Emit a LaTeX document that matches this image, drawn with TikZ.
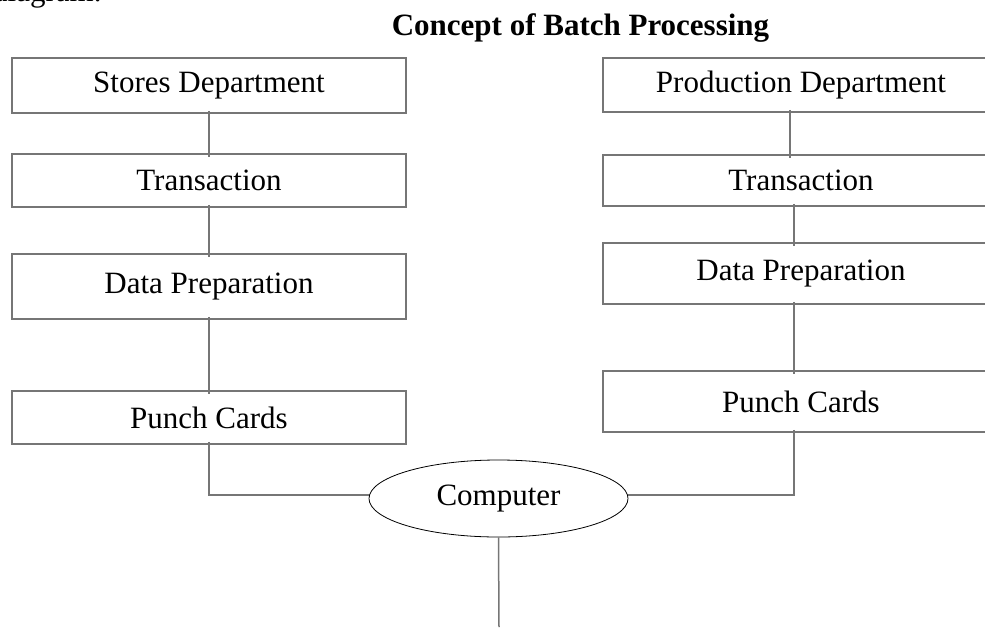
\documentclass[tikz,border=0pt]{standalone}
\usepackage{fontspec}
\setmainfont{Liberation Serif}
\usetikzlibrary{shapes.geometric}
\definecolor{linegray}{RGB}{118,118,118}
\begin{document}
\begin{tikzpicture}[x=1pt, y=-1pt,
  lbl/.style={font=\fontsize{31}{37}\selectfont},
  box/.style={lbl, draw=linegray, line width=1.5pt, inner sep=0pt, align=center},
  lbox/.style={box, minimum width=394pt},
  rbox/.style={box, minimum width=396pt},
  conn/.style={draw=linegray, line width=1.5pt},
  link/.style={conn, shorten <=-3pt, shorten >=-4pt},
  cpu/.style={lbl, ellipse, draw=black, line width=0.8pt, inner sep=0pt,
              minimum width=259pt, minimum height=77pt}
]
\useasboundingbox (0,0) rectangle (985,627);

% running text above the figure, cut by the page edge
\node[lbl, anchor=base west, inner sep=0pt] (lead) at (-8,1.5) {diagram.};

% title
\node[lbl, font=\fontsize{31}{37}\selectfont\bfseries, anchor=base, inner sep=0pt]
  (title) at (580.5,35) {Concept of Batch Processing};

% left column: stores
\node[lbox, minimum height=55pt] (sd)  at (209,85.5)  {Stores Department};
\node[lbox, minimum height=53pt] (t1)  at (209,180.5) {Transaction};
\node[lbox, minimum height=65pt] (dp1) at (209,286.5) {Data Preparation};
\node[lbox, minimum height=53pt] (pc1) at (209,417.5) {Punch Cards};

% right column: production
\node[rbox, minimum height=54pt] (pd)  at (801,85)    {Production Department};
\node[rbox, minimum height=51pt] (t2)  at (801,180.5) {Transaction};
\node[rbox, minimum height=61pt] (dp2) at (801,273.5) {Data Preparation};
\node[rbox, minimum height=61pt] (pc2) at (801,401.5) {Punch Cards};

% central computer
\node[cpu] (comp) at (498.5,498.5) {Computer};
\coordinate (out) at (499,627);

% left chain
\draw[link] (sd.south)  -- (t1.north);
\draw[link] (t1.south)  -- (dp1.north);
\draw[link] (dp1.south) -- (pc1.north);

% right chain
\draw[link] ([xshift=-11pt]pd.south) -- ([xshift=-11pt]t2.north);
\draw[link] ([xshift=-7pt]t2.south)  -- ([xshift=-7pt]dp2.north);
\draw[link] ([xshift=-7pt]dp2.south) -- ([xshift=-7pt]pc2.north);

% both card decks feed the computer
\draw[conn] ([yshift=3pt]pc1.south) |- ([yshift=3.5pt]comp.west);
\draw[conn] ([xshift=-7pt,yshift=3pt]pc2.south) |- ([yshift=3.5pt]comp.east);

% output line
\draw[conn] (comp.south) -- (out);
\end{tikzpicture}
\end{document}
